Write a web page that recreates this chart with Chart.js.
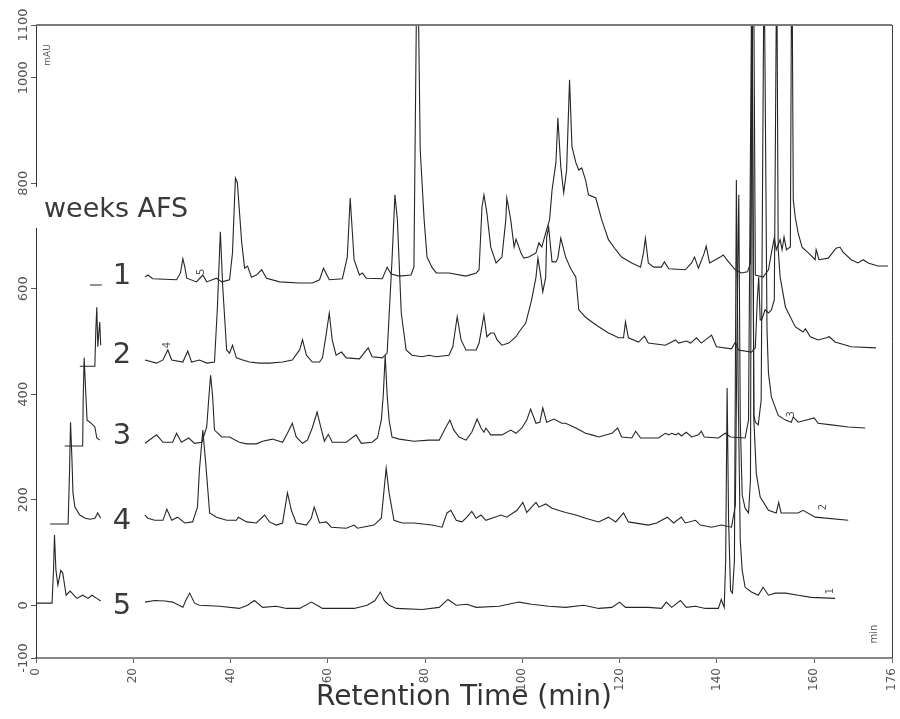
<!DOCTYPE html>
<html>
<head>
<meta charset="utf-8">
<title>Chromatograms - weeks AFS</title>
<script src="https://cdn.jsdelivr.net/npm/chart.js@4.4.1/dist/chart.umd.min.js"></script>
<style>
  html, body { margin: 0; padding: 0; background: #fff; }
</style>
</head>
<body>
<canvas id="chart" width="900" height="719"></canvas>
<script>
// Axis ticks
const xTicks = [0, 20, 40, 60, 80, 100, 120, 140, 160, 176];
const yTicks = [-100, 0, 200, 400, 600, 800, 1000, 1100];

// Traces: [retention time (min), signal (mAU)]
// a null value marks where the trace is hidden behind the week labels
const week1 = [
  [11.1, 607], [13.5, 607], [17, null],
  [22.4, 622], [23.0, 626], [24.0, 619], [28.9, 617], [29.7, 630], [30.2, 657], [30.6, 641], [31.0, 620],
  [33.0, 613], [34.3, 626], [35.1, 613], [37.1, 620], [38.2, 613], [39.8, 617], [40.4, 668], [41.0, 810],
  [41.4, 801], [42.3, 687], [42.9, 639], [43.5, 643], [44.3, 622], [45.3, 626], [46.4, 636], [47.4, 620],
  [50.1, 613], [54.2, 611], [56.8, 611], [58.3, 617], [59.1, 639], [60.3, 617], [63.0, 619], [64.0, 660],
  [64.6, 772], [65.4, 655], [66.5, 626], [67.1, 630], [67.9, 620], [71.2, 619], [72.2, 641], [73.0, 628],
  [74.7, 624], [77.1, 626], [77.7, 641], [78.4, 1300], [79.0, 863], [79.8, 731], [80.4, 660], [81.4, 641],
  [82.3, 630], [84.9, 630], [88.4, 624], [90.5, 630], [91.1, 636], [91.7, 755], [92.1, 778], [92.7, 744],
  [93.5, 679], [94.6, 649], [95.8, 660], [96.6, 731], [96.8, 772], [97.6, 731], [98.3, 679], [98.7, 694],
  [99.7, 668], [100.3, 658], [101.3, 660], [102.8, 668], [103.4, 687], [104.0, 679], [104.8, 706], [105.6, 731],
  [106.1, 787], [106.9, 839], [107.3, 924], [107.9, 831], [108.5, 782], [109.1, 825], [109.7, 996], [110.2, 869],
  [111.0, 839], [111.6, 825], [112.2, 829], [113.0, 806], [113.6, 778], [115.1, 772], [116.3, 731], [117.7, 693],
  [119.2, 674], [120.4, 660], [122.5, 649], [124.3, 641], [124.9, 668], [125.3, 696], [125.9, 649], [127.0, 641],
  [128.6, 641], [129.2, 651], [130.1, 638], [133.5, 636], [134.8, 649], [135.4, 660], [136.2, 639], [137.4, 668],
  [137.8, 681], [138.5, 649], [139.7, 655], [140.7, 660], [141.3, 664], [142.4, 651], [143.8, 636], [145.0, 630],
  [146.3, 632], [146.9, 649], [147.5, 1300], [147.9, 626], [149.5, 622], [150.6, 636], [151.2, 668], [151.8, 696],
  [152.2, 674], [153.0, 693], [153.4, 674], [153.8, 698], [154.3, 674], [155.1, 679], [155.4, 1300], [155.7, 769],
  [156.1, 736], [156.7, 706], [157.5, 679], [158.8, 668], [160.2, 655], [160.4, 674], [161.0, 655], [162.9, 658],
  [164.5, 677], [165.3, 679], [165.9, 670], [167.6, 655], [169.0, 649], [170.1, 655], [171.1, 649], [173.1, 643],
  [175.2, 643]
];

const week2 = [
  [9.0, 453], [12.1, 453], [12.3, 522], [12.5, 565], [12.7, 490], [13.1, 537], [13.3, 493], [17, null],
  [22.4, 465], [24.8, 459], [26.1, 465], [27.1, 484], [27.9, 465], [30.2, 461], [31.2, 482], [32.0, 461],
  [33.6, 465], [35.1, 459], [36.7, 461], [37.3, 565], [37.9, 708], [38.4, 603], [39.2, 484], [39.8, 478],
  [40.4, 493], [41.2, 469], [42.5, 465], [43.9, 461], [45.9, 459], [48.0, 459], [50.7, 461], [52.7, 465],
  [54.2, 484], [54.8, 503], [55.6, 474], [56.8, 461], [58.3, 461], [58.9, 469], [59.7, 516], [60.3, 554],
  [60.9, 503], [61.7, 474], [62.8, 480], [63.8, 469], [66.5, 467], [68.3, 488], [69.1, 471], [71.2, 469],
  [72.2, 478], [73.2, 655], [73.8, 778], [74.3, 731], [75.1, 554], [76.1, 484], [77.3, 474], [79.4, 471],
  [80.8, 474], [82.3, 471], [84.9, 474], [85.7, 490], [86.6, 547], [87.4, 503], [88.4, 484], [90.5, 484],
  [91.1, 497], [92.1, 550], [92.7, 509], [93.5, 516], [94.2, 516], [94.8, 503], [95.8, 493], [97.2, 497],
  [98.7, 509], [99.3, 518], [100.7, 535], [101.9, 579], [102.8, 622], [103.2, 658], [103.8, 622], [104.2, 594],
  [104.8, 622], [105.0, 698], [105.4, 717], [106.1, 651], [106.9, 651], [107.3, 658], [107.9, 696], [108.9, 660],
  [109.9, 639], [111.0, 622], [111.6, 560], [113.0, 546], [114.3, 537], [115.7, 528], [117.7, 516], [119.8, 507],
  [120.8, 507], [121.2, 537], [121.8, 507], [123.9, 499], [125.1, 510], [125.9, 497], [129.4, 493], [131.5, 503],
  [132.1, 497], [133.7, 501], [134.6, 497], [135.8, 507], [136.8, 497], [138.9, 512], [139.9, 490], [143.0, 486],
  [143.8, 499], [144.4, 484], [147.1, 480], [147.9, 488], [148.3, 579], [148.6, 622], [148.9, 541], [149.2, 541],
  [149.9, 560], [150.6, 554], [151.2, 560], [151.8, 579], [152.3, 1250], [152.6, 674], [153.0, 622], [154.1, 565],
  [156.1, 528], [157.7, 518], [158.2, 524], [159.2, 509], [160.8, 503], [162.5, 507], [163.1, 509], [164.3, 499],
  [167.6, 490], [172.7, 488]
];

const week3 = [
  [5.9, 302], [9.6, 302], [9.7, 389], [9.9, 469], [10.3, 389], [10.5, 351], [11.1, 347], [12.1, 338],
  [12.5, 317], [13.1, 313], [17, null],
  [22.4, 307], [24.8, 323], [26.1, 309], [28.1, 309], [28.9, 326], [29.9, 309], [31.4, 317], [32.6, 307],
  [34.1, 309], [35.1, 338], [35.5, 389], [35.9, 436], [36.3, 398], [36.7, 332], [38.2, 319], [39.8, 319],
  [41.8, 309], [43.3, 306], [45.3, 306], [46.6, 311], [48.6, 315], [50.7, 309], [51.7, 326], [52.7, 345],
  [53.5, 319], [54.8, 307], [55.8, 313], [56.8, 336], [57.8, 366], [58.7, 332], [59.3, 311], [60.1, 324],
  [60.9, 309], [63.8, 309], [65.8, 323], [66.9, 307], [69.1, 309], [70.2, 317], [71.0, 351], [71.4, 398],
  [71.8, 474], [72.2, 398], [72.6, 351], [73.2, 319], [74.7, 315], [77.7, 311], [80.8, 313], [82.9, 313],
  [84.3, 338], [85.1, 351], [85.9, 332], [87.0, 319], [88.4, 313], [89.6, 328], [90.7, 353], [91.5, 336],
  [92.1, 328], [92.5, 336], [93.5, 323], [95.8, 323], [97.6, 332], [98.7, 326], [99.9, 336], [100.9, 351],
  [101.7, 372], [102.8, 345], [103.6, 347], [104.2, 374], [105.0, 347], [106.5, 353], [108.1, 345], [108.9, 345],
  [111.0, 336], [113.0, 326], [114.3, 323], [115.7, 319], [118.4, 326], [119.6, 336], [120.4, 319], [122.5, 317],
  [123.3, 330], [124.3, 317], [128.0, 317], [129.4, 326], [130.1, 323], [130.7, 326], [131.5, 323], [132.1, 326],
  [132.7, 321], [133.7, 328], [134.8, 319], [136.2, 323], [136.8, 330], [137.4, 319], [140.3, 317], [141.7, 326],
  [142.8, 319], [145.8, 317], [146.5, 351], [147.2, 1250], [147.6, 360], [147.9, 347], [148.5, 342], [149.1, 389],
  [149.7, 1250], [150.3, 522], [150.6, 440], [151.2, 395], [152.6, 360], [154.1, 351], [155.3, 347], [155.7, 357],
  [156.7, 347], [160.0, 355], [160.8, 345], [163.5, 342], [167.0, 338], [170.5, 336]
];

const week4 = [
  [2.9, 154], [6.6, 154], [6.9, 256], [7.1, 347], [7.4, 275], [7.6, 213], [8.0, 186], [9.0, 171],
  [10.1, 165], [11.1, 163], [12.1, 165], [12.7, 175], [13.3, 165], [17, null],
  [22.4, 171], [23.0, 165], [24.4, 161], [26.1, 161], [26.9, 182], [27.9, 161], [29.1, 167], [30.6, 156],
  [32.2, 158], [33.2, 186], [33.6, 256], [34.3, 332], [34.9, 269], [35.7, 175], [37.1, 167], [39.2, 161],
  [41.2, 161], [41.6, 167], [43.3, 158], [45.3, 156], [47.0, 171], [48.0, 158], [49.4, 152], [50.7, 156],
  [51.7, 213], [52.5, 180], [53.5, 156], [55.6, 152], [56.6, 165], [57.2, 186], [58.3, 156], [59.7, 158],
  [60.7, 148], [63.8, 146], [65.4, 152], [66.1, 146], [69.5, 152], [71.0, 165], [71.6, 222], [72.0, 260],
  [72.6, 213], [73.6, 161], [75.3, 156], [77.7, 156], [81.4, 152], [83.5, 148], [84.5, 175], [85.3, 180],
  [86.4, 161], [87.6, 158], [88.6, 167], [89.6, 178], [90.5, 165], [91.5, 171], [92.5, 161], [93.7, 165],
  [95.6, 171], [96.8, 167], [98.9, 180], [100.1, 195], [100.9, 176], [101.9, 186], [102.8, 195], [103.4, 186],
  [104.8, 192], [106.1, 184], [108.9, 176], [111.0, 171], [113.0, 165], [115.7, 158], [117.7, 167], [119.2, 158],
  [120.8, 175], [121.8, 158], [125.9, 152], [127.6, 156], [129.8, 167], [131.1, 156], [132.7, 167], [133.5, 156],
  [135.6, 161], [136.6, 152], [138.9, 148], [140.9, 152], [143.0, 148], [143.8, 190], [144.2, 579], [144.5, 778],
  [144.8, 351], [145.2, 209], [145.8, 184], [146.5, 175], [146.9, 237], [147.2, 1250], [147.6, 351], [148.1, 250],
  [148.9, 205], [150.6, 180], [152.2, 175], [152.7, 195], [153.2, 175], [156.7, 175], [157.7, 180], [160.2, 167],
  [167.0, 161]
];

const week5 = [
  [0, 4], [3.3, 4], [3.6, 66], [3.8, 133], [4.1, 66], [4.5, 38], [5.1, 66], [5.5, 61], [6.2, 19],
  [7.0, 27], [7.6, 21], [8.4, 13], [9.6, 19], [10.7, 13], [11.5, 19], [12.5, 13], [13.3, 8], [17, null],
  [22.4, 6], [24.4, 9], [26.5, 8], [28.1, 6], [30.2, -4], [30.8, 9], [31.6, 23], [32.6, 4], [33.6, 0],
  [37.7, -2], [41.8, -6], [43.5, 0], [44.9, 9], [46.6, -4], [49.4, -2], [51.5, -6], [54.2, -6], [56.6, 6],
  [57.8, 0], [58.9, -6], [65.4, -6], [68.1, 0], [69.7, 9], [70.8, 25], [71.6, 9], [72.6, 0], [74.1, -6],
  [79.4, -8], [82.9, -4], [84.7, 11], [86.4, 0], [88.6, 2], [90.5, -4], [95.2, -2], [99.3, 6], [101.9, 2],
  [105.4, -2], [108.9, -4], [112.6, 0], [115.7, -6], [118.4, -4], [120.0, 6], [121.2, -4], [125.9, -4],
  [128.6, -6], [129.6, 6], [130.7, -4], [132.5, 9], [133.7, -4], [135.6, -2], [137.6, -6], [140.3, -6],
  [140.9, 11], [141.5, -4], [141.8, 85], [142.1, 412], [142.4, 161], [142.8, 28], [143.2, 23], [143.6, 85],
  [144.0, 806], [144.4, 389], [144.8, 123], [145.2, 66], [145.8, 34], [147.1, 25], [148.5, 19], [149.5, 34],
  [150.6, 19], [152.0, 23], [154.1, 23], [156.7, 19], [159.4, 15], [164.3, 13]
];

const traces = [week1, week2, week3, week4, week5];
const weekNames = ['1', '2', '3', '4', '5'];

// small run numbers printed by the integrator next to the traces
const runMarks = [
  { text: '5', t: 34.1, v: 632 },
  { text: '4', t: 27.1, v: 493 },
  { text: '3', t: 155.3, v: 362 },
  { text: '2', t: 161.8, v: 186 },
  { text: '1', t: 163.3, v: 27 }
];

Chart.defaults.font.family = "'DejaVu Sans', sans-serif";

// Frame, heading and labels laid over the plot
const overlay = {
  id: 'overlay',
  afterDraw(chart) {
    const { ctx, chartArea: a, scales: { x, y } } = chart;
    ctx.save();

    // top and right edges of the frame
    ctx.strokeStyle = '#7a7a7a';
    ctx.lineWidth = 2;
    ctx.beginPath();
    ctx.moveTo(a.left, a.top);
    ctx.lineTo(a.right, a.top);
    ctx.stroke();
    ctx.strokeStyle = '#3c3c3c';
    ctx.lineWidth = 1;
    ctx.beginPath();
    ctx.moveTo(a.right + 0.5, a.top);
    ctx.lineTo(a.right + 0.5, a.bottom);
    ctx.stroke();

    // the heading sits on a white patch that breaks the y axis
    ctx.fillStyle = '#fff';
    ctx.fillRect(a.left - 6, 187, 12, 41);

    ctx.fillStyle = '#3a3a3a';
    ctx.textBaseline = 'alphabetic';
    ctx.textAlign = 'left';
    ctx.font = "27px 'DejaVu Sans'";
    ctx.fillText('weeks AFS', a.left + 8, 217);

    ctx.textAlign = 'center';
    ctx.font = "29px 'DejaVu Sans'";
    const rows = [284, 363, 444, 529, 614];
    weekNames.forEach((name, i) => ctx.fillText(name, 122, rows[i]));

    // rotated small print
    const rotText = (text, px, py, size) => {
      ctx.save();
      ctx.translate(px, py);
      ctx.rotate(-Math.PI / 2);
      ctx.font = size + "px 'DejaVu Sans'";
      ctx.textAlign = 'center';
      ctx.textBaseline = 'middle';
      ctx.fillText(text, 0, 0);
      ctx.restore();
    };
    ctx.fillStyle = '#555';
    rotText('mAU', a.left + 12, a.top + 30, 9);
    rotText('min', a.right - 18, a.bottom - 24, 10);
    runMarks.forEach(m => rotText(m.text, x.getPixelForValue(m.t), y.getPixelForValue(m.v), 10));

    ctx.restore();
  }
};

const ctx = document.getElementById('chart').getContext('2d');

new Chart(ctx, {
  type: 'line',
  data: {
    datasets: traces.map((trace, i) => ({
      label: 'week ' + weekNames[i],
      data: trace.map(([t, v]) => ({ x: t, y: v })),
      borderColor: '#262626',
      borderWidth: 1.1,
      pointRadius: 0,
      tension: 0,
      fill: false,
      spanGaps: false
    }))
  },
  options: {
    responsive: false,
    animation: false,
    layout: { padding: { top: 25, right: 8, left: 0, bottom: 0 } },
    plugins: {
      legend: { display: false },
      tooltip: { enabled: false }
    },
    scales: {
      x: {
        type: 'linear',
        min: 0,
        max: 176,
        afterBuildTicks: s => { s.ticks = xTicks.map(v => ({ value: v })); },
        afterFit: s => {
          s.height = 61;
          s.paddingLeft = 0; s.paddingRight = 0;
        },
        grid: { drawOnChartArea: false, tickLength: 5, color: '#666' },
        border: { color: '#8a8a8a', width: 2 },
        ticks: {
          minRotation: 90, maxRotation: 90, autoSkip: false, padding: 5,
          color: '#555', font: { size: 12 },
          callback: v => String(v)
        },
        title: {
          display: true,
          text: 'Retention Time (min)',
          color: '#333',
          font: { size: 28 },
          padding: { top: 0, bottom: 4 }
        }
      },
      y: {
        type: 'linear',
        min: -100,
        max: 1100,
        afterBuildTicks: s => { s.ticks = yTicks.map(v => ({ value: v })); },
        afterFit: s => {
          s.width = 36;
          s.paddingTop = 0; s.paddingBottom = 0;
        },
        grid: { drawOnChartArea: false, tickLength: 5, color: '#555' },
        border: { color: '#333', width: 1 },
        ticks: {
          minRotation: 90, maxRotation: 90, autoSkip: false,
          crossAlign: 'center', padding: -9,
          color: '#555', font: { size: 13 },
          callback: v => String(v)
        }
      }
    }
  },
  plugins: [overlay]
});
</script>
</body>
</html>
